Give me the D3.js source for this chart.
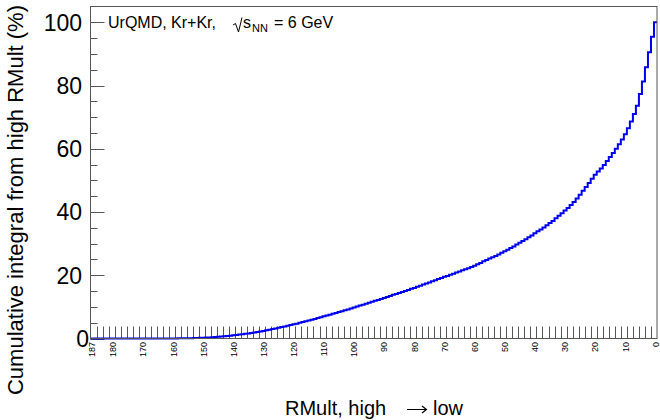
<!DOCTYPE html>
<html>
<head>
<meta charset="utf-8">
<script src="https://cdn.jsdelivr.net/npm/d3@7/dist/d3.min.js"></script>
<style>
  body { margin: 0; background: #fff; }
  text { font-family: "Liberation Sans", Arial, Helvetica, sans-serif; fill: #000; }
</style>
</head>
<body>
<div class="chart"></div>
<script>
// cumulative integral (%) from high RMult, index = RMult bin (0 .. 187)
let cumulative = [
  100, 95.4, 90.5, 85.8, 81.3, 77.3, 73.6, 71.0, 68.6, 66.5,
  64.6, 62.9, 61.4, 60.0, 58.7, 57.4, 56.1, 54.9, 53.8, 52.8,
  51.8, 50.5, 49.2, 47.9, 46.7, 45.5, 44.3, 43.2, 42.2, 41.3,
  40.5, 39.6, 38.8, 38.0, 37.2, 36.5, 35.8, 35.1, 34.5, 33.9,
  33.3, 32.6, 32.0, 31.4, 30.8, 30.3, 29.7, 29.1, 28.6, 28.1,
  27.6, 27.1, 26.6, 26.1, 25.7, 25.3, 24.8, 24.4, 23.9, 23.45,
  23.0, 22.6, 22.25, 21.9, 21.55, 21.2, 20.85, 20.5, 20.15, 19.8,
  19.5, 19.15, 18.8, 18.45, 18.1, 17.75, 17.4, 17.05, 16.7, 16.35,
  16.0, 15.7, 15.35, 15.0, 14.7, 14.4, 14.1, 13.8, 13.45, 13.1,
  12.8, 12.5, 12.2, 11.9, 11.6, 11.3, 11.0, 10.7, 10.4, 10.1,
  9.8, 9.5, 9.2, 8.9, 8.6, 8.35, 8.1, 7.8, 7.55, 7.3,
  7.0, 6.75, 6.5, 6.2, 5.95, 5.7, 5.45, 5.2, 4.95, 4.7,
  4.5, 4.25, 4.0, 3.8, 3.6, 3.4, 3.2, 3.0, 2.8, 2.6,
  2.4, 2.2, 2.05, 1.9, 1.75, 1.6, 1.48, 1.36, 1.24, 1.12,
  1.0, 0.9, 0.8, 0.7, 0.62, 0.54, 0.47, 0.41, 0.35, 0.3,
  0.25, 0.21, 0.17, 0.14, 0.11, 0.09, 0.07, 0.05, 0.04, 0.03,
  0.02, 0.015, 0.01, 0.01, 0.01, 0, 0, 0, 0, 0,
  0, 0, 0, 0, 0, 0, 0, 0, 0, 0,
  0, 0, 0, 0, 0, 0, 0, 0
];
let rmultBins = cumulative.map((d, i) => i);
let xTickLabels = [187, 180, 170, 160, 150, 140, 130, 120, 110, 100, 90, 80, 70, 60, 50, 40, 30, 20, 10, 0];
let yTickValues = [0, 20, 40, 60, 80, 100];
let yMinorValues = d3.range(0, 105, 5);

let width = 660;
let height = 420;
let frame = {left: 90.5, right: 657, top: 6.5, bottom: 338.5};
let axisColor = '#555';

let svg = d3.select('.chart')
            .append('svg')
            .attr('width', width)
            .attr('height', height);

let x = d3.scaleLinear()
          .domain([187.5, -0.5])
          .range([frame.left, frame.right]);
let y = d3.scaleLinear()
          .domain([0, 105])
          .range([frame.bottom, frame.top]);

// x ticks: short upward ticks on every second bin edge
let xTickEdges = d3.range(185.5, 0, -2);
svg.append('g')
   .selectAll('line')
   .data(xTickEdges)
   .enter()
   .append('line')
   .attr('x1', d => Math.round(x(d)) + 0.5)
   .attr('x2', d => Math.round(x(d)) + 0.5)
   .attr('y1', frame.bottom)
   .attr('y2', frame.bottom - 12)
   .attr('stroke', axisColor);

// y ticks
svg.append('g')
   .selectAll('line')
   .data(yMinorValues)
   .enter()
   .append('line')
   .attr('x1', frame.left)
   .attr('x2', d => frame.left + (d % 20 === 0 ? 14 : 7))
   .attr('y1', d => Math.round(y(d)) + 0.5)
   .attr('y2', d => Math.round(y(d)) + 0.5)
   .attr('stroke', axisColor);

// step histogram
let stepPoints = [];
rmultBins.slice().reverse().forEach(b => {
  stepPoints.push([x(b + 0.5), y(cumulative[b])]);
  stepPoints.push([x(b - 0.5), y(cumulative[b])]);
});
svg.append('path')
   .attr('d', d3.line()(stepPoints))
   .attr('fill', 'none')
   .attr('stroke', '#0000ee')
   .attr('stroke-width', 2);

// frame
svg.append('rect')
   .attr('x', frame.left)
   .attr('y', frame.top)
   .attr('width', frame.right - frame.left)
   .attr('height', frame.bottom - frame.top)
   .attr('fill', 'none')
   .attr('stroke', axisColor);

// x tick labels, vertical
svg.append('g')
   .selectAll('text')
   .data(xTickLabels)
   .enter()
   .append('text')
   .attr('transform', d => 'translate(' + x(d) + ',' + 342 + ') rotate(-90)')
   .attr('text-anchor', 'end')
   .attr('dy', '0.35em')
   .style('font-size', '9px')
   .text(d => d);

// y tick labels
svg.append('g')
   .selectAll('text')
   .data(yTickValues)
   .enter()
   .append('text')
   .attr('x', d => d === 0 ? 89 : 82)
   .attr('y', d => y(d))
   .attr('dy', '0.36em')
   .attr('text-anchor', 'end')
   .style('font-size', '23px')
   .text(d => d);

// axis titles
svg.append('text')
   .attr('transform', 'translate(23,5) rotate(-90)')
   .attr('text-anchor', 'end')
   .style('font-size', '22px')
   .text('Cumulative integral from high RMult (%)');

svg.append('text')
   .attr('x', 285)
   .attr('y', 415)
   .style('font-size', '20px')
   .text('RMult, high');
svg.append('path')
   .attr('d', 'M407,409.5 L426,409.5 M422,406 L426.5,409.5 L422,413')
   .attr('fill', 'none')
   .attr('stroke', '#000')
   .attr('stroke-width', 1.2);
svg.append('text')
   .attr('x', 433)
   .attr('y', 415)
   .style('font-size', '20px')
   .text('low');

// label in the frame
svg.append('text')
   .attr('x', 108)
   .attr('y', 28)
   .style('font-size', '16px')
   .text('UrQMD, Kr+Kr,');
svg.append('path')
   .attr('d', 'M233,25 L235.5,23.5 L238.5,32 L242,17.5')
   .attr('fill', 'none')
   .attr('stroke', '#000')
   .attr('stroke-width', 1);
svg.append('text')
   .attr('x', 243)
   .attr('y', 28)
   .style('font-size', '16px')
   .text('s');
svg.append('text')
   .attr('x', 252)
   .attr('y', 32)
   .style('font-size', '11px')
   .text('NN');
svg.append('text')
   .attr('x', 274)
   .attr('y', 28)
   .style('font-size', '16px')
   .text('= 6 GeV');
</script>
</body>
</html>
